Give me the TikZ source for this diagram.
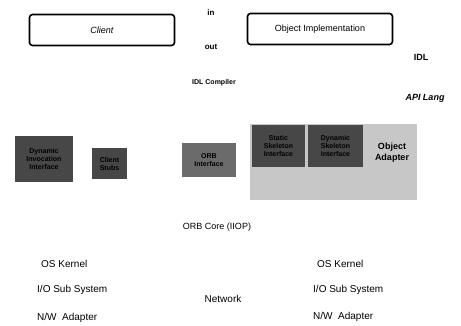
\documentclass[tikz,border=0pt]{standalone}
\usepackage{fontspec}
\setmainfont{Liberation Sans}
\usetikzlibrary{positioning}

\begin{document}
\begin{tikzpicture}[x=1pt,y=-1pt,
        comp/.style={rectangle, draw=black, fill=white, line width=1.6pt, rounded corners=3pt, minimum width=145pt, minimum height=31pt, font=\small},
        iface/.style={rectangle, fill=black!72, text=black, font=\scriptsize\bfseries, align=center, inner sep=1pt},
        backdrop/.style={rectangle, fill=black!22, inner sep=0pt},
        lbl/.style={font=\footnotesize, inner sep=1pt},
        oslbl/.style={font=\normalsize, anchor=west, inner sep=0pt}
        ]
        \useasboundingbox (0,0) rectangle (461,326);
        % application level
        \node[comp]  (CL)   at (102,30)  {\itshape Client};
        \node[comp]  (OI)   at (320,29)  {Object Implementation};
        \node[lbl]   (IN)   at (211,13)  {\bfseries in};
        \node[lbl]   (OUT)  at (211,47)  {\bfseries out};
        \node[lbl]   (IDLC) at (214,83)  {\scriptsize\bfseries IDL Compiler};
        \node[lbl]   (IDL)  at (421,57)  {\small\rmfamily\bfseries IDL};
        \node[lbl]   (API)  at (425,98)  {\small\bfseries\itshape API Lang};
        % orb interfaces
        \node[backdrop, minimum width=167pt, minimum height=76pt] (OABG) at (333.5,162) {};
        \node[iface, minimum width=58pt, minimum height=46pt] (DII)  at (44,159)    {Dynamic\\Invocation\\Interface};
        \node[iface, minimum width=35pt, minimum height=31pt] (STUB) at (109.5,163.5) {Client\\Stubs};
        \node[iface, minimum width=54pt, minimum height=34pt, fill=black!58] (ORBI) at (209,160) {ORB\\Interface};
        \node[iface, minimum width=53pt, minimum height=42pt] (SSI)  at (278.5,146) {Static\\Skeleton\\Interface};
        \node[iface, minimum width=55pt, minimum height=42pt] (DSI)  at (335.5,146) {Dynamic\\Skeleton\\Interface};
        \node[lbl, font=\small\bfseries, align=center] (OA) at (392,153) {Object\\Adapter};
        \node[lbl, font=\small] (CORE) at (217,227) {ORB Core (IIOP)};
        % os level
        \node[oslbl] (OSL)  at (41,264)  {OS Kernel};
        \node[oslbl] (IOL)  at (37,290)  {I/O Sub System};
        \node[oslbl] (NWL)  at (37,318)  {N/W \ Adapter};
        \node[lbl, font=\normalsize] (NET) at (223,299) {Network};
        \node[oslbl] (OSR)  at (317,264) {OS Kernel};
        \node[oslbl] (IOR)  at (313,290) {I/O Sub System};
        \node[oslbl] (NWR)  at (313,317) {N/W \ Adapter};
\end{tikzpicture}
\end{document}
